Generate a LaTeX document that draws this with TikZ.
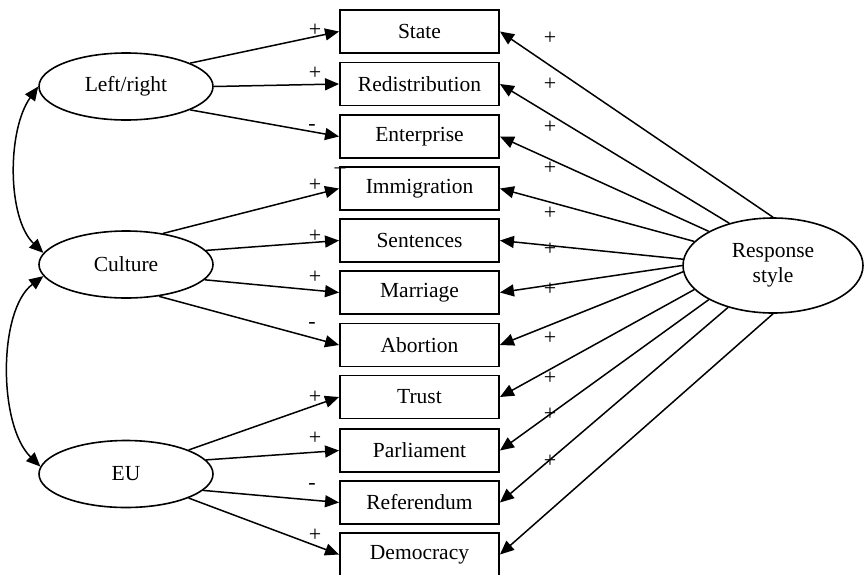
\documentclass[tikz,border=0pt]{standalone}
\usepackage{fontspec}
\setmainfont{Liberation Serif}
\usetikzlibrary{shapes.geometric,arrows.meta}
\tikzset{
  obsbox/.style={draw,rectangle,line width=1.9pt,minimum width=159pt,minimum height=43pt,inner sep=0pt,font=\fontsize{21.5}{25}\selectfont},
  latent/.style={draw,ellipse,line width=1.6pt,minimum width=174pt,minimum height=67pt,inner sep=0pt,font=\fontsize{21.5}{25}\selectfont},
  path/.style={line width=1.5pt,-{Triangle[length=14pt,width=12pt]}},
  cov/.style={line width=1.5pt,{Triangle[length=14pt,width=12pt]}-{Triangle[length=14pt,width=12pt]}},
  sgn/.style={font=\fontsize{22}{25}\selectfont,inner sep=0pt}
}
\begin{document}
\begin{tikzpicture}[x=1pt,y=-1pt]
\useasboundingbox (0,0) rectangle (864,574);
\fill[white] (0,0) rectangle (864,574);
% observed
\node[obsbox] (st) at (419.5,31.5) {State};
\node[obsbox] (re) at (419.5,84) {Redistribution};
\node[obsbox] (en) at (419.5,136.5) {Enterprise};
\node[obsbox] (im) at (419.5,188.5) {Immigration};
\node[obsbox] (se) at (419.5,240.5) {Sentences};
\node[obsbox] (ma) at (419.5,292.5) {Marriage};
\node[obsbox] (ab) at (419.5,345) {Abortion};
\node[obsbox] (tr) at (419.5,397) {Trust};
\node[obsbox] (pa) at (419.5,450.5) {Parliament};
\node[obsbox] (rf) at (419.5,502.5) {Referendum};
\node[obsbox] (de) at (419.5,554.5) {Democracy};
% latent
\node[latent] (lr) at (126,86.5) {Left/right};
\node[latent] (cu) at (126,264.5) {Culture};
\node[latent] (eu) at (126,474) {EU};
\node[latent,minimum width=180pt,minimum height=95pt,align=center] (rs) at (773,265.5) {Response\\style};
% left paths
\draw[path] (lr.20) -- (st.west);
\draw[path] (lr.0) -- (re.west);
\draw[path] (lr.-20) -- (en.west);
\draw[path] (cu.40) -- (im.west);
\draw[path] (cu.10) -- (se.west);
\draw[path] (cu.-11) -- (ma.west);
\draw[path] (cu.-44) -- (ab.west);
\draw[path] (eu.21) -- (tr.west);
\draw[path] (eu.10) -- (pa.west);
\draw[path] (eu.-12) -- (rf.west);
\draw[path] (eu.-21) -- (de.west);
% right paths
\draw[path] (rs.90) -- (st.east);
\draw[path] (rs.136) -- (re.east);
\draw[path] (rs.152) -- (en.east);
\draw[path] (rs.163) -- (im.east);
\draw[path] (rs.176) -- (se.east);
\draw[path] (rs.180) -- (ma.east);
\draw[path] (rs.184) -- (ab.east);
\draw[path] (rs.197) -- (tr.east);
\draw[path] (rs.208) -- (pa.east);
\draw[path] (rs.223) -- (rf.east);
\draw[path] (rs.270) -- (de.east);
% covariances
\draw[cov] (lr.west) .. controls (7,130) and (7,218) .. (cu.172);
\draw[cov] (cu.188) .. controls (-2,310) and (-2,425) .. (eu.175);
% signs left
\node[sgn] (s1) at (315,30) {+};
\node[sgn] (s2) at (315,73) {+};
\node[sgn] (s3) at (312,127) {-};
\node[sgn] (s3b) at (340,171) {--};
\node[sgn] (s4) at (315,185) {+};
\node[sgn] (s5) at (315,236) {+};
\node[sgn] (s6) at (315,277) {+};
\node[sgn] (s7) at (312,325) {-};
\node[sgn] (s8) at (315,397) {+};
\node[sgn] (s9) at (315,438) {+};
\node[sgn] (s10) at (312,486) {-};
\node[sgn] (s11) at (315,535) {+};
% signs right
\node[sgn] (r1) at (550,38) {+};
\node[sgn] (r2) at (550,84) {+};
\node[sgn] (r3) at (550,127) {+};
\node[sgn] (r4) at (550,168) {+};
\node[sgn] (r5) at (550,213) {+};
\node[sgn] (r6) at (550,249) {+};
\node[sgn] (r7) at (550,289) {+};
\node[sgn] (r8) at (550,338) {+};
\node[sgn] (r9) at (550,378) {+};
\node[sgn] (r10) at (550,414) {+};
\node[sgn] (r11) at (550,461) {+};
\end{tikzpicture}
\end{document}
